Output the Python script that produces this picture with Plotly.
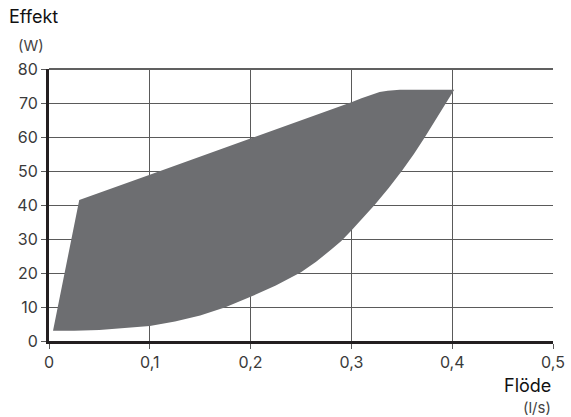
import plotly.graph_objects as go

# Övre gräns (flöde l/s, effekt W)
upper_flow = [0.004, 0.03, 0.1, 0.2, 0.3, 0.31, 0.32, 0.328, 0.336, 0.348, 0.402]
upper_power = [3.0, 41.5, 48.9, 59.5, 70.2, 71.4, 72.5, 73.2, 73.6, 73.9, 73.9]

# Undre gräns
lower_flow = [0.004, 0.025, 0.05, 0.075, 0.1, 0.125, 0.15, 0.175, 0.2, 0.225, 0.25,
              0.265, 0.28, 0.29, 0.3, 0.323, 0.337, 0.35, 0.362, 0.373, 0.384, 0.394, 0.402]
lower_power = [3.0, 3.05, 3.2, 3.7, 4.4, 5.7, 7.5, 9.9, 13.0, 16.3, 20.2,
               23.3, 26.9, 29.4, 32.5, 40.0, 45.0, 50.0, 55.0, 60.0, 65.0, 70.0, 73.9]

x_ticks = [0, 0.1, 0.2, 0.3, 0.4, 0.5]
y_ticks = [0, 10, 20, 30, 40, 50, 60, 70, 80]

FONT = 'Inter'
GRID = '#5a5a5a'

xs = upper_flow + lower_flow[::-1]
ys = upper_power + lower_power[::-1]

fig = go.Figure()
fig.add_trace(go.Scatter(
    x=xs, y=ys, mode='lines', fill='toself',
    fillcolor='#6d6e71', line=dict(width=0, color='#6d6e71'),
    hoverinfo='skip', showlegend=False,
))

# övre ram
fig.add_shape(type='line', xref='paper', yref='paper', x0=0, x1=1, y0=1, y1=1,
              line=dict(color='#606060', width=2))

fig.update_xaxes(
    range=[0, 0.5], tickvals=x_ticks, showgrid=True, gridcolor=GRID, gridwidth=1,
    showline=True, linecolor='#231f20', linewidth=3, automargin=False,
    ticks='outside', ticklen=5, tickcolor=GRID, zeroline=False,
    tickfont=dict(family=FONT, size=16, color='#3a3a3a'),
)
fig.update_yaxes(
    range=[0, 80], tickvals=y_ticks, showgrid=True, gridcolor=GRID, gridwidth=1,
    showline=True, linecolor='#231f20', linewidth=3, automargin=False,
    ticks='outside', ticklen=5, tickcolor=GRID, zeroline=False,
    tickfont=dict(family=FONT, size=16, color='#3a3a3a'),
)

fig.add_annotation(text='Effekt', xref='paper', yref='paper', x=-0.083, y=1.192,
                   xanchor='left', yanchor='middle', showarrow=False,
                   font=dict(family=FONT, size=18, color='#111'))
fig.add_annotation(text='(W)', xref='paper', yref='paper', x=-0.066, y=1.088,
                   xanchor='left', yanchor='middle', showarrow=False,
                   font=dict(family=FONT, size=15, color='#444'))
fig.add_annotation(text='Flöde', xref='paper', yref='paper', x=1.0, y=-0.162,
                   xanchor='right', yanchor='middle', showarrow=False,
                   font=dict(family=FONT, size=18, color='#111'))
fig.add_annotation(text='(l/s)', xref='paper', yref='paper', x=1.0, y=-0.246,
                   xanchor='right', yanchor='middle', showarrow=False,
                   font=dict(family=FONT, size=15, color='#444'))

fig.update_layout(
    width=571, height=417, separators=', ',
    margin=dict(l=49, r=18, t=69, b=76),
    paper_bgcolor='white', plot_bgcolor='white',
)

fig.write_html("out.html", config={'displayModeBar': False},
               post_script="document.body.style.margin='0';")
